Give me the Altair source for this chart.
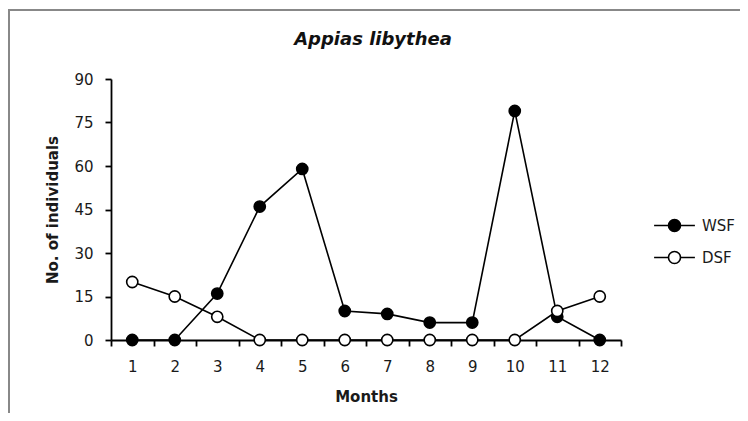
import altair as alt
import pandas as pd

months = list(range(1, 13))
wsf = [0, 0, 16, 46, 59, 10, 9, 6, 6, 79, 8, 0]
dsf = [20, 15, 8, 0, 0, 0, 0, 0, 0, 0, 10, 15]
series_names = ["WSF", "DSF"]
y_ticks = [0, 15, 30, 45, 60, 75, 90]

rows = []
for m, v in zip(months, wsf):
    rows.append({"month": m, "value": v, "series": "WSF"})
for m, v in zip(months, dsf):
    rows.append({"month": m, "value": v, "series": "DSF"})
df = pd.DataFrame(rows)

FONT = "DejaVu Sans"
TXT = "#1a1a1a"

x_enc = alt.X(
    "month:O",
    bandPosition=0.5,
    scale=alt.Scale(type="band", paddingInner=0, paddingOuter=0),
    axis=alt.Axis(
        title="Months",
        labelAngle=0,
        tickBand="extent",
        tickSize=6,
        tickColor="black",
        tickWidth=1.8,
        domainColor="black",
        domainWidth=1.8,
        labelPadding=13,
        labelFontSize=15,
        labelColor=TXT,
        labelFont=FONT,
        titleFont=FONT,
        titleFontSize=15,
        titleFontWeight="bold",
        titleColor=TXT,
        titlePadding=15,
        grid=False,
    ),
)
y_enc = alt.Y(
    "value:Q",
    scale=alt.Scale(domain=[0, 90], nice=False),
    axis=alt.Axis(
        title="No. of individuals",
        values=y_ticks,
        tickSize=6,
        tickColor="black",
        tickWidth=1.8,
        domainColor="black",
        domainWidth=1.8,
        labelPadding=12,
        labelFontSize=15,
        labelColor=TXT,
        labelFont=FONT,
        titleFont=FONT,
        titleFontSize=15,
        titleFontWeight="bold",
        titleColor=TXT,
        titlePadding=13,
        grid=False,
    ),
)

sym_path = "M-3.4,0L-1,0M1,0L3.4,0M-1,0A1,1,0,1,0,1,0A1,1,0,1,0,-1,0Z"

base = alt.Chart(df).encode(x=x_enc, y=y_enc)

lines = base.mark_line(color="black", strokeWidth=1.6).encode(
    detail="series:N"
)

points = base.mark_point(
    shape="circle", filled=True, size=125, stroke="black", strokeWidth=1.6, opacity=1
).encode(
    fill=alt.Fill(
        "series:N",
        sort=series_names,
        scale=alt.Scale(domain=series_names, range=["black", "white"]),
        legend=alt.Legend(
            title=None,
            orient="none",
            legendX=556,
            legendY=139,
            padding=0,
            symbolType=sym_path,
            symbolSize=144,
            symbolStrokeColor="black",
            symbolStrokeWidth=1.6,
            symbolOpacity=1,
            labelOffset=20,
            labelFontSize=15,
            labelFont=FONT,
            labelColor=TXT,
            rowPadding=13,
        ),
    ),
)

frame = alt.Chart(pd.DataFrame({"a": [0]})).mark_rect(
    fill=None, stroke="#888888", strokeWidth=2
).encode(
    x=alt.value(-102), x2=alt.value(800), y=alt.value(-69), y2=alt.value(600)
)

chart = alt.layer(frame, lines, points).properties(
    width=510,
    height=261,
    background="white",
    title=alt.Title(
        "Appias libythea",
        fontStyle="italic",
        fontWeight="bold",
        fontSize=18,
        font=FONT,
        color="#111",
        anchor="middle",
        frame="group",
        offset=0,
        dy=40,
        dx=7,
    ),
    autosize=alt.AutoSizeParams(type="none"),
    padding={"left": 103, "top": 71, "right": 119, "bottom": 73},
).configure_view(stroke="transparent", strokeWidth=0)

chart.save("out.html", embed_options={"renderer": "svg", "actions": False})
